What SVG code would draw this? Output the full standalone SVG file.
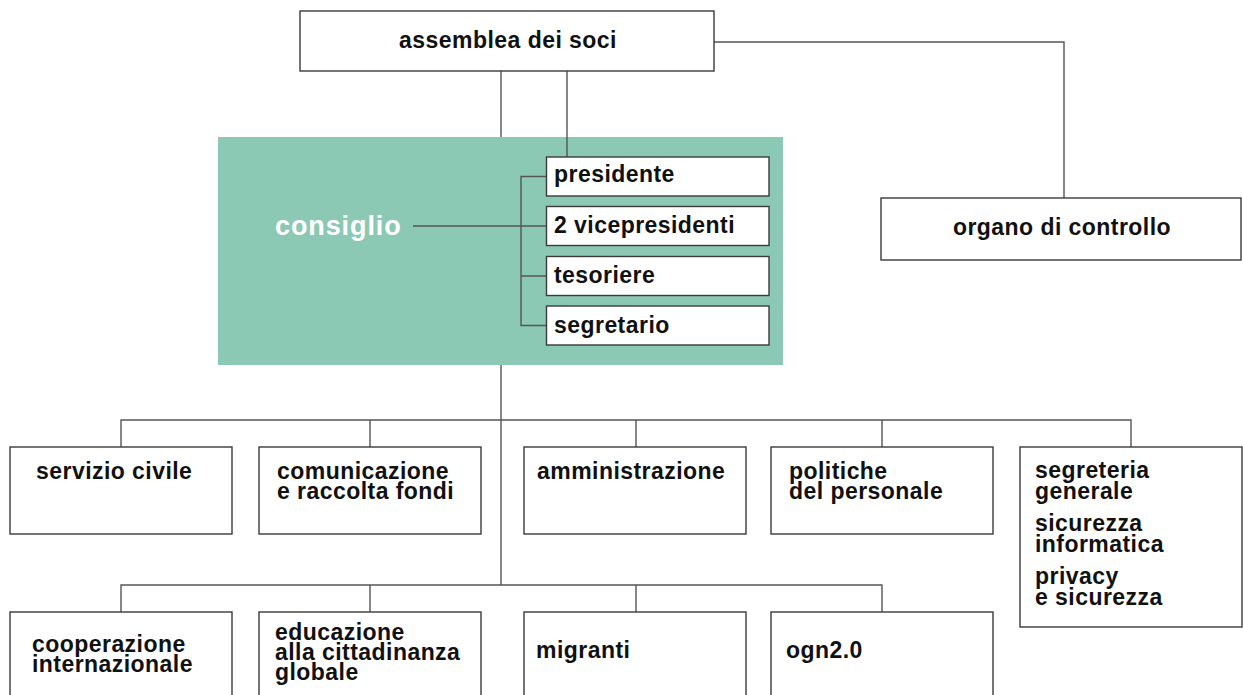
<svg xmlns="http://www.w3.org/2000/svg" width="1243" height="695" viewBox="0 0 1243 695">
<style>
.box{fill:#fff;stroke:#3a3a3a;stroke-width:1.4}
.small{fill:#fff;stroke:#3a3a3a;stroke-width:1.4}
.t{font-family:"Liberation Sans",Arial,sans-serif;font-weight:bold;font-size:23px;fill:#111;letter-spacing:0.45px}
.tc{text-anchor:middle}
.con{fill:none;stroke:#555;stroke-width:1.4}
</style>
<rect width="1243" height="695" fill="#fff"/>
<g id="consiglio">
<rect x="218" y="137" width="565" height="228" fill="#8cc9b4"/>
<text x="275" y="235" font-family="Liberation Sans,Arial,sans-serif" font-weight="bold" font-size="27" letter-spacing="0.9" fill="#fff">consiglio</text>
</g>
<g id="connectors">
<path class="con" d="M501 71V137M567 71V157M714 42H1064V198"/>
<path class="con" d="M413 226H546M546 176.5H521V325.5H546M521 276H546"/>
<path class="con" d="M501 365V585"/>
<path class="con" d="M121 447V420H1131V447M370 420V447M636 420V447M882 420V447"/>
<path class="con" d="M121 612V585H882V612M370 585V612M636 585V612"/>
</g>
<g id="assemblea">
<rect class="box" x="300" y="11" width="414" height="60"/>
<text class="t tc" x="508" y="48">assemblea dei soci</text>
</g>
<g id="organo">
<rect class="box" x="881" y="198" width="360" height="62"/>
<text class="t tc" x="1062" y="235">organo di controllo</text>
</g>
<g id="presidente">
<rect class="small" x="546.5" y="157" width="222.5" height="39"/>
<text class="t" x="554" y="182">presidente</text>
</g>
<g id="vicepresidenti">
<rect class="small" x="546.5" y="206.5" width="222.5" height="39"/>
<text class="t" x="554" y="233">2 vicepresidenti</text>
</g>
<g id="tesoriere">
<rect class="small" x="546.5" y="256.5" width="222.5" height="39"/>
<text class="t" x="554" y="283">tesoriere</text>
</g>
<g id="segretario">
<rect class="small" x="546.5" y="306" width="222.5" height="39"/>
<text class="t" x="554" y="333">segretario</text>
</g>
<g id="servizio-civile">
<rect class="box" x="10" y="447" width="222" height="87"/>
<text class="t" x="36" y="479">servizio civile</text>
</g>
<g id="comunicazione">
<rect class="box" x="259" y="447" width="222" height="87"/>
<text class="t" x="277" y="479">comunicazione</text>
<text class="t" x="277" y="499">e raccolta fondi</text>
</g>
<g id="amministrazione">
<rect class="box" x="524" y="447" width="222" height="87"/>
<text class="t" x="537" y="479">amministrazione</text>
</g>
<g id="politiche">
<rect class="box" x="771" y="447" width="222" height="87"/>
<text class="t" x="789" y="479">politiche</text>
<text class="t" x="789" y="499">del personale</text>
</g>
<g id="segreteria">
<rect class="box" x="1020" y="447" width="222" height="180"/>
<text class="t" x="1035" y="478">segreteria</text>
<text class="t" x="1035" y="499">generale</text>
<text class="t" x="1035" y="531">sicurezza</text>
<text class="t" x="1035" y="552">informatica</text>
<text class="t" x="1035" y="584">privacy</text>
<text class="t" x="1035" y="605">e sicurezza</text>
</g>
<g id="cooperazione">
<rect class="box" x="10" y="612" width="222" height="95"/>
<text class="t" x="32" y="652">cooperazione</text>
<text class="t" x="32" y="672">internazionale</text>
</g>
<g id="educazione">
<rect class="box" x="259" y="612" width="222" height="95"/>
<text class="t" x="275" y="640">educazione</text>
<text class="t" x="275" y="660">alla cittadinanza</text>
<text class="t" x="275" y="680">globale</text>
</g>
<g id="migranti">
<rect class="box" x="524" y="612" width="222" height="95"/>
<text class="t" x="536" y="658">migranti</text>
</g>
<g id="ogn">
<rect class="box" x="771" y="612" width="222" height="95"/>
<text class="t" x="786" y="658">ogn2.0</text>
</g>
</svg>
